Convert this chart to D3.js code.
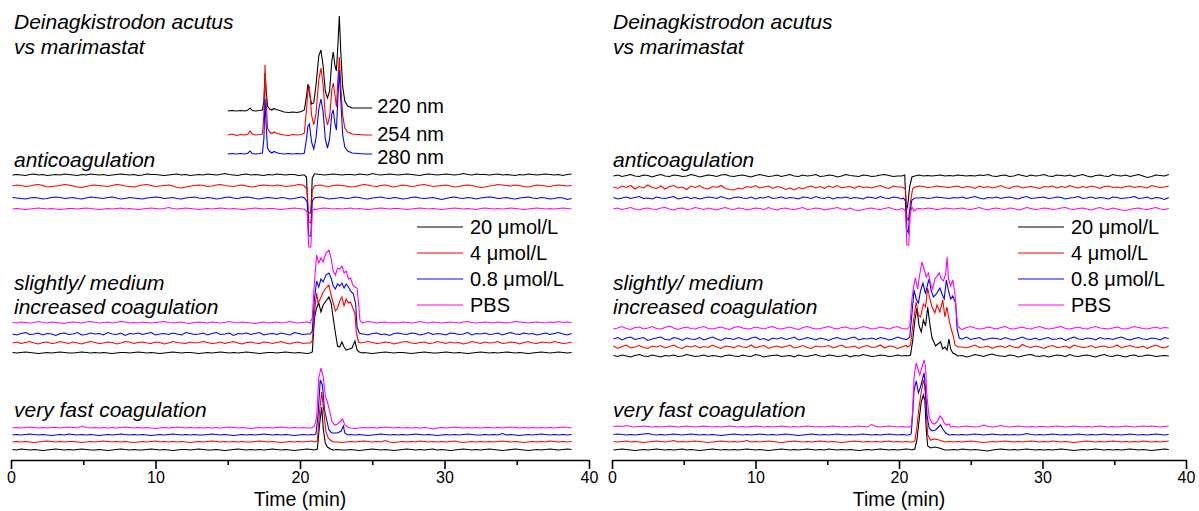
<!DOCTYPE html>
<html><head><meta charset="utf-8">
<script src="https://cdn.jsdelivr.net/npm/d3@7"></script>
<style>
body{margin:0;background:#fff;}
svg{display:block;font-family:"Liberation Sans",Arial,sans-serif;}
</style></head><body>
<svg id="c" width="1199" height="511"></svg>
<script>
// ---------- DATA ----------
const xTicks = [0, 10, 20, 30, 40];
const xMinorTicks = [5, 15, 25, 35];
const legendLabels = ["20 \u03bcmol/L", "4 \u03bcmol/L", "0.8 \u03bcmol/L", "PBS"];
const seriesColors = ["#000000", "#ff0000", "#0000ff", "#ff00ff"];
const uvLabels = ["220 nm", "254 nm", "280 nm"];
const uvColors = ["#000000", "#ff0000", "#0000ff"];
const groupLabels = [["anticoagulation"], ["slightly/ medium", "increased coagulation"], ["very fast coagulation"]];
const titleLines = ["Deinagkistrodon acutus", "vs marimastat"];

// baseline sampling (min)
const T0 = 0.1, STEP = 0.3;

// stacking offsets (signal units) [20, 4, 0.8, PBS]
const leftAntiOffsets = [570, 548, 524, 502];
const leftSlightOffsets = [214, 234, 252, 274];
const leftFastOffsets = [20, 36, 50, 64];
const rightAntiOffsets = [568, 546, 524, 502];
const rightSlightOffsets = [208, 226, 242, 262];
const rightFastOffsets = [20, 36, 50, 66];
const uvOffsets = [698, 650, 612];
// UV label levels (signal units)
const uvLabelLevels = [708, 652, 606];

// UV chromatogram (left panel)
const uvTime = [15.0,15.3,15.6,15.9,16.2,16.4,16.55,16.7,16.9,17.2,17.4,17.5,17.58,17.66,17.75,17.9,18.05,18.2,18.35,18.6,18.9,19.2,19.5,19.8,20.1,20.3,20.45,20.55,20.65,20.8,20.95,21.1,21.3,21.45,21.6,21.75,21.9,22.05,22.2,22.3,22.42,22.52,22.62,22.72,22.82,22.95,23.1,23.3,23.6,24.0,24.5,25.0];
const uv220 = [0,1,0,1,0,2,6,1,0,1,2,20,76,40,10,4,2,5,3,1,-2,-3,-2,-3,-1,2,30,54,36,14,16,50,110,122,90,40,26,40,100,118,90,80,130,190,120,50,20,10,6,6,6,6];
const uv254 = [0,2,-1,1,0,2,8,2,0,1,2,40,140,70,14,6,3,6,4,2,0,-1,1,0,1,4,50,90,96,40,20,40,110,134,100,40,20,36,90,104,80,56,110,156,100,40,14,6,2,1,0,0];
const uv280 = [0,1,0,1,0,2,6,1,0,1,2,30,110,56,12,5,2,5,3,1,0,1,0,1,0,2,30,56,60,24,10,30,90,110,84,30,12,30,80,88,60,48,110,168,110,40,14,6,2,1,0,0];

// ---- left panel, anticoagulation (baseline noise) ----
const laBlack = [0,1,0,-1,1,2,0,1,-1,0,1,0,2,1,0,-1,1,0,2,1,0,1,-1,0,1,2,1,0,1,-1,0,2,1,1,0,-1,0,1,2,0,1,-1,0,1,0,2,1,0,1,3,1,0,-1,1,2,0,1,0,-1,1,0,2,1,0,1,1,-1,0,3,1,2,1,0,1,2,1,0,1,1,0,2,1,0,3,1,0,1,2,1,0,1,2,1,0,-1,1,2,1,0,1,2,1,0,1,3,1,0,2,1,1,0,1,2,0,1,0,-1,1,0,2,1,0,1,2,1,0,1,-1,1,2];
const laRed = [0,2,1,-1,0,2,3,1,-2,-1,0,1,3,2,0,-2,-3,-1,1,2,1,0,-1,1,3,2,0,-1,-2,0,2,3,1,-1,0,1,2,0,-3,-4,-2,0,1,2,1,-1,0,2,3,1,0,-1,1,2,0,-2,-1,1,2,1,0,2,1,-1,0,1,3,2,0,-1,1,2,0,-1,1,2,1,0,-2,-1,1,3,2,0,-1,1,2,0,-2,0,2,1,-1,0,2,3,1,-1,0,1,2,0,-2,-1,1,2,1,-1,-3,-2,0,1,3,2,1,0,2,1,-1,-2,0,2,1,0,-1,1,2,1,0,1];
const laBlue = [1,0,-1,-2,0,1,0,-2,-1,1,2,1,-1,0,1,-1,-2,0,2,1,0,-1,1,2,0,-2,-1,1,0,-1,-2,0,1,2,1,-1,0,1,-1,-2,0,1,2,0,-1,1,0,-2,-1,1,2,0,-1,1,2,1,-1,-2,0,1,0,-1,1,0,-2,-1,1,2,0,-1,1,2,0,-2,-1,0,1,-1,0,2,1,-1,-2,0,1,2,0,-1,1,0,-2,-1,1,2,0,-1,0,1,-1,-3,-1,1,2,0,-1,1,0,-2,0,1,2,1,-1,0,1,-1,-2,0,1,2,0,-1,1,0,-2,-1,1,0,-3,-1];
const laMag = [0,1,0,-1,0,1,2,1,0,1,0,-1,0,1,1,0,1,2,1,0,-1,0,1,0,1,2,0,1,0,-1,0,1,2,1,0,1,3,1,0,1,2,1,0,-1,0,1,0,1,2,1,0,1,0,-1,0,1,2,1,0,1,1,0,-1,0,1,2,1,0,1,0,-1,1,2,1,0,1,0,1,2,0,1,0,-1,0,1,2,1,0,1,1,0,-1,0,1,2,1,0,1,0,-1,0,1,2,1,0,1,0,-1,1,2,1,0,1,0,1,2,1,0,-1,0,1,2,1,0,1,0,1,2,1,0];
// ---- left panel, slightly/medium ----
const lsBlack = [1,0,1,2,1,0,-1,0,1,0,1,2,1,0,0,1,2,1,0,1,0,1,0,-1,0,1,1,0,1,2,1,0,1,0,-1,0,1,2,1,0,1,1,0,-1,0,1,0,1,2,1,0,1,0,1,2,1,0,-1,0,1,1,0,1,2,1,0,1,0,-1,0,1,2,1,0,1,0,1,2,1,0,0,1,0,-1,0,1,2,1,0,1,1,0,-1,0,1,2,1,0,0,1,2,1,0,1,0,-1,0,1,2,1,0,1,0,1,2,1,0,1,0,-1,0,1,2,1,0,1,2,1,0,1];
const lsRed = [0,2,-1,1,3,0,-2,1,2,-1,0,3,1,-1,2,0,-2,1,3,1,-1,0,2,1,-2,0,3,2,-1,1,2,0,-1,2,1,-2,0,3,1,0,-1,2,0,1,3,1,-1,0,2,-1,1,3,0,-2,1,2,0,-1,2,1,-1,1,3,0,-2,1,2,-1,0,2,1,-2,0,2,3,0,-1,1,2,0,-2,1,3,1,-1,0,2,1,-2,0,2,3,0,-1,1,2,-1,0,3,1,-1,2,0,1,-2,0,3,1,-1,2,0,1,3,-1,0,2,1,-2,1,3,0,-1,2,1,0,3,1,-1,0,2];
const lsBlue = [0,-2,1,3,-1,0,2,-2,1,0,-3,1,2,-1,0,3,-2,-1,2,0,1,-2,3,0,-1,2,-3,1,0,2,-1,1,3,-2,0,1,-1,2,0,-2,3,1,-1,0,2,-2,1,3,-1,0,2,-3,1,0,2,-1,1,3,-2,0,1,-1,2,0,-2,3,1,-1,0,2,-2,1,0,3,-1,2,-2,0,1,-1,3,0,-2,1,2,-1,0,-3,1,2,0,-1,2,1,-2,0,3,-1,1,0,-2,2,1,-1,0,3,-2,1,0,2,-1,0,2,-2,1,3,0,-1,2,0,1,-2,0,2,-1,1,3,0,-2,1];
const lsMag = [1,0,2,1,0,1,3,1,0,2,1,0,-1,1,2,1,0,2,3,1,0,1,2,0,1,3,2,0,1,0,2,1,0,1,2,3,1,0,1,2,0,-1,1,2,1,0,2,1,0,1,3,1,0,2,1,0,-1,1,2,0,1,2,0,1,3,1,0,1,2,1,0,1,2,1,0,-1,1,0,2,1,0,1,3,2,0,1,2,0,1,0,2,1,0,1,3,1,0,2,1,0,1,2,1,0,2,3,1,0,1,2,1,0,2,1,0,1,3,2,1,0,1,2,1,0,2,1,3,1,2,1];
// ---- left panel, very fast ----
const lvBlack = [1,0,2,1,0,1,0,-1,0,1,2,1,0,1,0,1,2,1,0,0,1,0,-1,0,1,2,1,0,1,0,0,1,2,1,0,1,0,-1,0,1,1,0,1,2,1,0,0,1,0,-1,0,1,2,1,0,1,0,1,0,1,2,1,0,1,0,-1,0,1,2,1,0,1,0,1,2,1,0,0,1,0,-1,0,1,2,1,0,1,0,-1,0,1,2,1,0,1,0,1,2,0,1,0,-1,0,1,2,1,0,1,0,1,2,1,0,-1,0,1,2,1,0,-1,0,1,0,1,2,1,0,1,2,1];
const lvRed = [0,1,0,1,0,-1,0,1,2,1,0,1,0,1,1,0,-1,0,1,0,1,2,1,0,1,0,1,0,-1,0,1,0,1,2,0,1,0,1,0,1,0,-1,0,1,0,1,2,1,0,1,0,1,0,1,0,0,1,2,1,0,1,0,-1,0,1,0,1,0,1,2,1,0,1,0,1,0,-1,0,1,0,1,2,1,0,1,0,3,0,-1,0,1,0,1,0,2,1,0,1,0,1,0,1,2,0,-1,0,1,0,1,0,1,0,1,2,1,0,1,0,-1,0,1,0,1,0,2,1,0,1,0,1];
const lvBlue = [0,1,0,1,2,1,0,1,0,-1,0,1,0,2,1,0,1,0,1,0,-1,0,1,0,1,2,1,0,1,0,1,0,-1,0,1,0,1,2,1,0,1,0,1,0,0,1,2,1,0,1,0,-1,0,1,0,1,0,1,2,1,0,1,0,1,0,-1,0,1,0,1,2,1,0,1,0,1,0,0,1,0,1,0,-1,0,1,2,1,0,1,0,1,0,1,2,1,0,1,0,-1,0,1,0,1,0,1,2,1,0,0,1,0,1,0,3,0,1,0,-1,0,1,0,1,2,1,0,1,0,1,0,1];
const lvMag = [0,1,0,1,2,1,0,1,0,1,1,0,1,2,1,0,4,1,0,1,0,1,0,1,0,1,2,1,0,1,0,1,0,-1,0,1,0,1,2,1,0,1,0,1,0,1,0,1,0,1,2,1,0,1,0,-1,0,1,0,1,0,1,2,1,0,1,0,1,0,1,0,1,0,1,2,1,0,1,0,-1,0,1,0,1,0,1,2,1,0,1,0,1,0,1,0,1,0,-2,0,1,0,1,2,1,0,1,0,1,0,1,1,0,1,0,1,2,1,0,1,0,1,0,1,0,1,0,1,2,1,0];
// ---- right panel, anticoagulation ----
const raBlack = [0,2,-1,1,3,0,-1,2,1,-2,1,3,0,-1,2,1,-1,0,3,1,-2,0,2,1,-1,2,3,0,-1,1,2,0,-2,1,3,1,-1,0,2,-1,1,3,0,-1,2,0,1,3,-1,0,2,1,-2,0,3,1,0,-1,2,1,-1,0,2,3,1,-1,0,2,0,-2,1,2,0,1,0,1,2,0,1,0,2,1,0,1,0,2,1,3,0,-1,1,2,-1,0,3,1,-1,2,0,1,3,0,-1,2,1,0,2,-1,1,3,0,-2,1,2,0,-1,3,1,0,2,-1,1,3,0,-3,-1,2,1,0,3];
const raRed = [0,-3,2,-1,3,-4,1,-2,4,-1,-3,2,-4,1,3,-2,0,-5,2,-1,3,-2,-4,1,-1,3,-3,-5,-6,-2,-4,1,-1,3,-2,0,2,-3,1,-1,-5,-2,-6,-1,-4,0,2,-2,1,-3,2,-1,3,-2,0,1,-3,2,-1,0,-2,1,3,-1,-3,2,0,-2,1,3,0,2,1,-1,0,2,1,0,-1,1,2,-2,1,0,-3,2,-1,1,-2,0,3,-1,-3,1,2,-2,0,1,-1,-3,1,0,2,-2,1,-1,3,0,-2,1,-1,2,0,-3,1,2,-1,0,-2,1,2,-1,1,0,-2,3,1,-1,0,2];
const raBlue = [1,-2,0,2,-1,1,3,-1,0,-2,2,0,-1,1,3,-2,0,2,-1,1,-2,0,2,1,-1,3,0,-2,1,2,0,-1,2,-2,1,0,3,-1,0,2,-1,1,0,-2,2,1,-1,3,0,-1,2,-2,1,0,2,-1,1,0,-2,2,1,-1,3,0,-1,2,1,-2,0,1,2,0,1,-1,0,2,1,0,-1,1,0,2,-1,1,3,0,-2,1,0,2,-1,1,2,0,-2,1,3,-1,0,1,2,-1,0,2,1,-2,0,1,3,-1,0,2,-1,1,0,-2,2,1,-1,0,1,3,-1,0,2,-2,1,0,-3,1];
const raMag = [0,2,-1,1,3,0,-2,1,2,0,-1,2,3,0,-2,1,2,-1,0,3,1,-1,2,0,-2,1,3,0,-1,2,1,-2,0,2,1,-1,3,0,-2,1,2,0,-1,1,3,-1,0,2,1,-2,0,1,3,0,-1,2,-2,-3,-1,1,2,0,-1,1,3,0,-2,1,2,0,-1,1,0,2,1,-1,0,2,1,0,1,2,0,-1,1,3,0,-2,1,2,0,-1,2,1,-2,0,3,1,-1,0,2,1,-1,0,2,3,0,-1,1,2,0,-2,1,3,0,-1,2,0,-2,-3,-1,1,2,0,-1,1,3,0,-1,1];
// ---- right panel, slightly/medium ----
const rsBlack = [1,-1,2,0,-2,1,3,0,-1,2,0,-2,1,0,2,-1,0,3,1,-1,0,2,-1,1,0,-2,1,2,0,-1,2,0,-1,3,1,-2,0,1,2,-1,0,1,-2,2,0,-1,1,3,0,-1,2,1,-1,0,2,-2,1,0,3,1,-1,0,2,1,-1,0,2,0,1,-1,1,2,0,-1,1,2,0,1,-1,0,2,1,-2,0,3,1,-1,2,4,1,0,-1,2,1,-2,0,2,3,0,-1,1,-2,0,2,1,-1,3,0,-1,1,2,0,-2,1,3,0,-1,2,0,-2,1,2,-1,0,2,1,-1,0,1,0];
const rsRed = [2,-3,1,4,-2,0,3,-1,-3,2,0,3,-2,1,4,-1,-3,2,0,3,-2,1,-1,4,0,-3,2,1,-2,3,0,-1,4,-2,1,3,-3,0,2,-1,1,4,-2,0,3,-1,-3,2,0,1,3,-2,1,4,-1,0,2,-3,1,3,-1,0,4,-2,2,1,-3,0,3,-1,0,2,-2,1,3,0,-1,2,-2,1,3,0,-2,1,4,-1,0,2,-3,1,2,-1,3,0,-2,5,1,-1,2,0,-3,1,3,-1,0,2,-2,4,1,-1,0,3,-2,1,2,-1,0,4,-2,1,3,0,-1,2,-3,1,4,0,-2,2];
const rsBlue = [0,3,-2,2,4,-1,1,3,-3,0,2,4,-1,-2,3,1,-3,2,0,-1,3,-2,1,4,0,-3,2,1,-1,3,0,-2,2,4,-1,1,-3,2,0,3,-1,1,4,-2,0,3,1,-2,2,0,-3,1,3,0,-1,2,4,-2,1,0,2,-1,3,1,-2,0,4,1,-1,2,0,3,-2,1,2,0,-1,3,1,-2,2,0,4,-1,1,3,-2,0,2,1,-1,3,0,-2,1,4,0,-1,2,-2,1,3,-1,0,2,-3,1,4,0,-1,2,1,-2,3,0,1,-1,2,4,0,-2,1,3,0,-1,2,1,-2,3,1];
const rsMag = [0,2,5,1,-1,3,4,0,2,5,1,0,3,6,2,-1,2,4,1,0,3,5,1,0,2,4,1,-1,3,5,2,0,1,4,2,0,3,5,1,0,2,4,1,-1,3,5,2,0,1,3,5,2,0,3,4,1,0,2,5,3,0,1,4,2,0,3,5,1,0,2,4,2,0,1,3,5,1,0,2,4,1,-1,3,5,2,0,1,4,2,0,3,5,1,0,2,4,1,0,3,5,2,0,1,3,5,1,0,2,4,1,0,3,5,2,1,0,2,4,1,0,2,5,3,1,0,2,4,1,3,2];
// ---- right panel, very fast ----
const rvBlack = [0,1,2,1,0,-1,0,1,0,1,2,1,0,1,0,1,2,0,1,0,-1,0,1,2,1,0,1,0,1,0,1,2,1,0,1,0,-1,0,1,2,1,0,1,0,1,2,1,0,1,0,2,1,0,1,0,1,0,-1,0,1,0,1,2,1,0,1,0,1,2,1,0,1,0,1,2,1,0,1,0,1,0,2,1,0,1,0,-1,-2,0,1,2,1,0,1,0,1,2,1,0,1,0,1,0,1,2,1,0,-1,0,1,0,1,2,1,0,1,0,1,0,1,2,1,0,1,0,-1,0,1,2,1];
const rvRed = [1,0,1,2,0,1,0,-1,0,1,2,1,0,1,3,0,1,0,1,2,1,0,-1,0,1,2,1,0,1,0,1,3,0,1,0,1,2,1,0,-1,0,1,2,1,0,1,0,1,2,1,0,1,0,-1,0,1,2,1,0,1,0,1,0,1,2,0,1,0,1,0,2,1,0,3,1,0,1,2,1,0,1,0,1,2,1,0,-1,0,1,0,1,2,1,0,1,0,1,2,1,0,1,0,2,1,0,1,0,-1,0,1,2,1,0,1,0,1,2,1,0,1,0,1,0,2,1,0,1,0,1,2];
const rvBlue = [1,2,1,0,1,0,1,2,3,1,0,1,0,1,2,1,0,1,2,1,0,1,0,1,0,-1,0,1,2,1,0,1,0,1,2,1,0,1,0,1,2,1,0,-1,0,1,2,1,0,1,0,1,2,1,0,1,0,1,2,1,0,1,0,1,2,1,0,1,0,1,2,1,0,1,2,1,0,1,0,1,0,1,0,1,2,1,0,1,2,1,0,1,0,1,0,1,3,1,0,1,0,1,2,1,0,1,0,1,2,1,0,1,0,1,2,1,0,1,0,1,2,1,0,1,0,1,2,1,0,1];
const rvMag = [1,2,1,3,1,0,1,2,1,0,1,0,1,2,1,0,1,2,1,0,1,2,1,0,1,0,1,2,1,0,1,0,1,2,1,0,1,0,1,2,1,0,1,0,1,2,1,0,1,0,1,2,1,0,1,0,1,2,1,0,5,1,0,1,2,1,0,1,0,1,2,1,0,1,0,1,2,1,0,1,0,1,2,1,0,1,4,1,0,1,3,1,0,1,2,1,0,1,0,1,1,0,1,2,1,0,1,2,1,0,1,0,1,2,1,0,1,0,1,2,1,0,1,2,1,2,1,0,1,2];

// ---- peak segments [time, signal] replacing baseline in their time window ----
const laBlackPeak = [[20.3,0],[20.45,-4],[20.55,-76],[20.75,-76],[20.85,-6],[21.0,2]];
const laRedPeak = [[20.3,0],[20.5,-6],[20.6,-72],[20.75,-74],[20.85,-8],[21.0,0]];
const laBluePeak = [[20.3,0],[20.5,-8],[20.6,-76],[20.75,-76],[20.85,-6],[21.0,0]];
const laMagPeak = [[20.3,0],[20.5,-6],[20.6,-76],[20.75,-76],[20.85,-4],[21.0,0]];

const lsBlackPeak = [[20.7,0],[20.85,2],[21.0,70],[21.15,90],[21.3,100],[21.45,82],[21.6,96],[21.8,104],[22.0,112],[22.15,100],[22.3,70],[22.45,40],[22.6,14],[22.75,12],[22.9,22],[23.05,12],[23.2,6],[23.4,8],[23.6,10],[23.8,24],[23.95,6],[24.1,2],[24.3,0]];
const lsRedPeak = [[20.7,0],[20.85,4],[21.0,60],[21.15,100],[21.25,80],[21.4,88],[21.6,102],[21.8,110],[22.0,116],[22.15,96],[22.3,80],[22.45,64],[22.6,70],[22.75,84],[22.9,92],[23.05,74],[23.2,88],[23.35,80],[23.5,82],[23.65,70],[23.8,60],[23.9,20],[24.05,2],[24.2,0]];
const lsBluePeak = [[20.7,0],[20.85,6],[21.0,70],[21.15,106],[21.3,94],[21.45,110],[21.6,104],[21.8,118],[22.0,122],[22.15,112],[22.3,96],[22.45,90],[22.6,100],[22.75,96],[22.9,102],[23.05,92],[23.2,100],[23.35,94],[23.5,86],[23.7,80],[23.85,60],[23.95,14],[24.1,2],[24.3,0]];
const lsMagPeak = [[20.7,0],[20.85,10],[20.95,60],[21.05,100],[21.15,136],[21.3,120],[21.45,130],[21.6,122],[21.8,140],[22.0,146],[22.15,130],[22.3,104],[22.45,96],[22.6,110],[22.75,108],[22.9,114],[23.05,100],[23.2,104],[23.35,88],[23.5,90],[23.65,76],[23.8,72],[23.95,70],[24.05,40],[24.15,6],[24.3,0]];

const lvBlackPeak = [[21.0,0],[21.2,2],[21.35,50],[21.5,86],[21.62,40],[21.75,14],[21.9,6],[22.1,2],[22.3,0]];
const lvRedPeak = [[21.0,0],[21.2,2],[21.35,60],[21.5,100],[21.65,60],[21.8,20],[21.95,8],[22.1,4],[22.3,0]];
const lvBluePeak = [[20.9,0],[21.1,2],[21.25,40],[21.4,110],[21.55,100],[21.7,50],[21.85,30],[22.0,10],[22.2,4],[22.6,4],[22.85,8],[23.0,18],[23.1,4],[23.3,0]];
const lvMagPeak = [[20.8,0],[21.0,4],[21.15,20],[21.3,100],[21.45,120],[21.6,104],[21.75,64],[21.9,52],[22.05,34],[22.2,14],[22.4,6],[22.6,8],[22.8,14],[22.95,18],[23.1,6],[23.3,2],[23.5,0]];

const raBlackPeak = [[20.2,0],[20.4,2],[20.5,-70],[20.6,-60],[20.75,-20],[20.9,-2],[21.1,0]];
const raRedPeak = [[20.2,0],[20.45,-4],[20.55,-60],[20.65,-68],[20.8,-30],[20.95,-4],[21.1,0]];
const raBluePeak = [[20.3,0],[20.45,-6],[20.55,-64],[20.65,-70],[20.75,-30],[20.9,-4],[21.1,0]];
const raMagPeak = [[20.3,0],[20.45,-4],[20.55,-72],[20.68,-72],[20.78,-10],[20.9,4],[21.05,-4],[21.2,0]];

const rsBlackPeak = [[20.6,0],[20.8,2],[20.95,30],[21.1,70],[21.25,96],[21.4,60],[21.55,48],[21.7,72],[21.85,60],[22.0,98],[22.15,64],[22.3,36],[22.4,30],[22.55,20],[22.7,24],[22.9,28],[23.05,14],[23.2,18],[23.35,12],[23.48,34],[23.6,14],[23.75,6],[23.9,4],[24.1,0]];
const rsRedPeak = [[20.6,0],[20.8,4],[20.95,40],[21.1,70],[21.2,90],[21.35,64],[21.5,60],[21.7,86],[21.85,80],[22.0,118],[22.15,96],[22.3,80],[22.5,68],[22.65,84],[22.85,70],[23.05,94],[23.2,60],[23.34,80],[23.48,56],[23.62,38],[23.8,20],[23.9,4],[24.1,0]];
const rsBluePeak = [[20.6,0],[20.75,4],[20.9,50],[21.05,98],[21.2,80],[21.35,72],[21.5,96],[21.67,112],[21.85,90],[22.0,110],[22.1,120],[22.25,96],[22.4,84],[22.6,90],[22.85,102],[23.0,90],[23.15,80],[23.3,118],[23.45,96],[23.6,80],[23.75,86],[23.95,72],[24.05,20],[24.2,2],[24.35,0]];
const rsMagPeak = [[20.6,0],[20.75,6],[20.9,60],[21.05,90],[21.15,102],[21.3,80],[21.45,110],[21.6,134],[21.75,120],[21.9,104],[22.05,112],[22.2,90],[22.35,80],[22.5,100],[22.65,106],[22.8,112],[22.95,100],[23.1,96],[23.25,110],[23.35,144],[23.45,100],[23.6,86],[23.75,98],[23.9,70],[24.0,30],[24.1,6],[24.3,0]];

const rvBlackPeak = [[20.9,0],[21.1,2],[21.25,20],[21.4,60],[21.55,96],[21.7,110],[21.8,100],[21.9,40],[22.0,8],[22.2,4],[22.5,6],[22.8,4],[23.0,2],[23.2,0]];
const rvRedPeak = [[20.9,0],[21.1,2],[21.25,30],[21.4,70],[21.55,100],[21.7,124],[21.8,110],[21.9,60],[22.0,14],[22.2,4],[22.5,6],[22.8,4],[23.0,2],[23.2,0]];
const rvBluePeak = [[20.7,0],[20.85,2],[20.95,40],[21.05,90],[21.2,108],[21.35,84],[21.5,96],[21.62,110],[21.75,124],[21.85,90],[21.95,40],[22.1,14],[22.3,8],[22.55,10],[22.75,16],[22.9,20],[23.05,12],[23.25,4],[23.5,0]];
const rvMagPeak = [[20.7,0],[20.85,2],[20.95,30],[21.05,100],[21.2,128],[21.3,118],[21.45,104],[21.6,120],[21.75,134],[21.85,120],[21.95,60],[22.1,20],[22.3,8],[22.5,6],[22.7,12],[22.85,22],[23.0,18],[23.15,8],[23.3,4],[23.5,6],[23.6,0]];

// ---------- DRAW ----------
const svg = d3.select("#c");
const AXIS_Y = 460;
const y = d3.scaleLinear().domain([0, 920]).range([AXIS_Y, 0]);

function buildTrace(noise, seg) {
  let pts = noise.map((v, i) => [T0 + i * STEP, v]);
  if (seg) {
    const a = seg[0][0], b = seg[seg.length - 1][0];
    pts = pts.filter(p => p[0] < a || p[0] > b).concat(seg).sort((p, q) => p[0] - q[0]);
  }
  return pts;
}

const panels = [
  { x0: 11, x1: 589, tx: 14, legX: 417,
    groups: [
      { offsets: leftAntiOffsets, noise: [laBlack, laRed, laBlue, laMag], peaks: [laBlackPeak, laRedPeak, laBluePeak, laMagPeak] },
      { offsets: leftSlightOffsets, noise: [lsBlack, lsRed, lsBlue, lsMag], peaks: [lsBlackPeak, lsRedPeak, lsBluePeak, lsMagPeak] },
      { offsets: leftFastOffsets, noise: [lvBlack, lvRed, lvBlue, lvMag], peaks: [lvBlackPeak, lvRedPeak, lvBluePeak, lvMagPeak] }
    ], uv: true },
  { x0: 612, x1: 1186, tx: 613, legX: 1018,
    groups: [
      { offsets: rightAntiOffsets, noise: [raBlack, raRed, raBlue, raMag], peaks: [raBlackPeak, raRedPeak, raBluePeak, raMagPeak] },
      { offsets: rightSlightOffsets, noise: [rsBlack, rsRed, rsBlue, rsMag], peaks: [rsBlackPeak, rsRedPeak, rsBluePeak, rsMagPeak] },
      { offsets: rightFastOffsets, noise: [rvBlack, rvRed, rvBlue, rvMag], peaks: [rvBlackPeak, rvRedPeak, rvBluePeak, rvMagPeak] }
    ], uv: false }
];

const labelY = [[167], [290, 314], [417]];

panels.forEach(p => {
  const x = d3.scaleLinear().domain([0, 40]).range([p.x0, p.x1]);
  const g = svg.append("g");

  titleLines.forEach((t, i) => {
    g.append("text").attr("x", p.tx).attr("y", 29 + i * 25)
      .attr("font-size", 21).attr("font-style", "italic").text(t);
  });
  groupLabels.forEach((lines, gi) => {
    lines.forEach((t, li) => {
      g.append("text").attr("x", p.tx).attr("y", labelY[gi][li])
        .attr("font-size", 21).attr("font-style", "italic").text(t);
    });
  });

  const line = d3.line().x(d => x(d[0])).y(d => y(d[1]));

  if (p.uv) {
    [uv220, uv254, uv280].forEach((vals, k) => {
      const pts = uvTime.map((t, i) => [t, uvOffsets[k] + vals[i]]);
      g.append("path").attr("d", line(pts)).attr("fill", "none")
        .attr("stroke", uvColors[k]).attr("stroke-width", 1.1);
      const last = pts[pts.length - 1];
      g.append("text").attr("x", x(last[0]) + 5).attr("y", y(uvLabelLevels[k]) + 7)
        .attr("font-size", 20).text(uvLabels[k]);
    });
  }

  p.groups.forEach(gr => {
    gr.noise.forEach((nz, k) => {
      const pts = buildTrace(nz, gr.peaks[k]).map(d => [d[0], gr.offsets[k] + d[1]]);
      g.append("path").attr("d", line(pts)).attr("fill", "none")
        .attr("stroke", seriesColors[k]).attr("stroke-width", 1.1);
    });
  });

  legendLabels.forEach((lab, k) => {
    const ly = 227 + k * 26;
    g.append("line").attr("x1", p.legX).attr("x2", p.legX + 46)
      .attr("y1", ly).attr("y2", ly).attr("stroke", seriesColors[k]).attr("stroke-width", 1.1);
    g.append("text").attr("x", p.legX + 53).attr("y", ly + 7).attr("font-size", 20).text(lab);
  });

  const ax = g.append("g").attr("transform", `translate(0,${AXIS_Y})`)
    .call(d3.axisBottom(x).tickValues(xTicks).tickSize(9).tickSizeOuter(0).tickPadding(3));
  ax.select(".domain").attr("stroke-width", 1.6);
  ax.selectAll(".tick line").attr("stroke-width", 1.6);
  ax.selectAll(".tick text").attr("font-size", 16).attr("font-family", "Liberation Sans, Arial, sans-serif");
  const axm = g.append("g").attr("transform", `translate(0,${AXIS_Y})`)
    .call(d3.axisBottom(x).tickValues(xMinorTicks).tickSize(5).tickSizeOuter(0).tickFormat(""));
  axm.select(".domain").remove();
  axm.selectAll(".tick line").attr("stroke-width", 1.6);

  g.append("text").attr("x", (p.x0 + p.x1) / 2).attr("y", 506)
    .attr("text-anchor", "middle").attr("font-size", 19.5).text("Time (min)");
});
</script>
</body></html>
